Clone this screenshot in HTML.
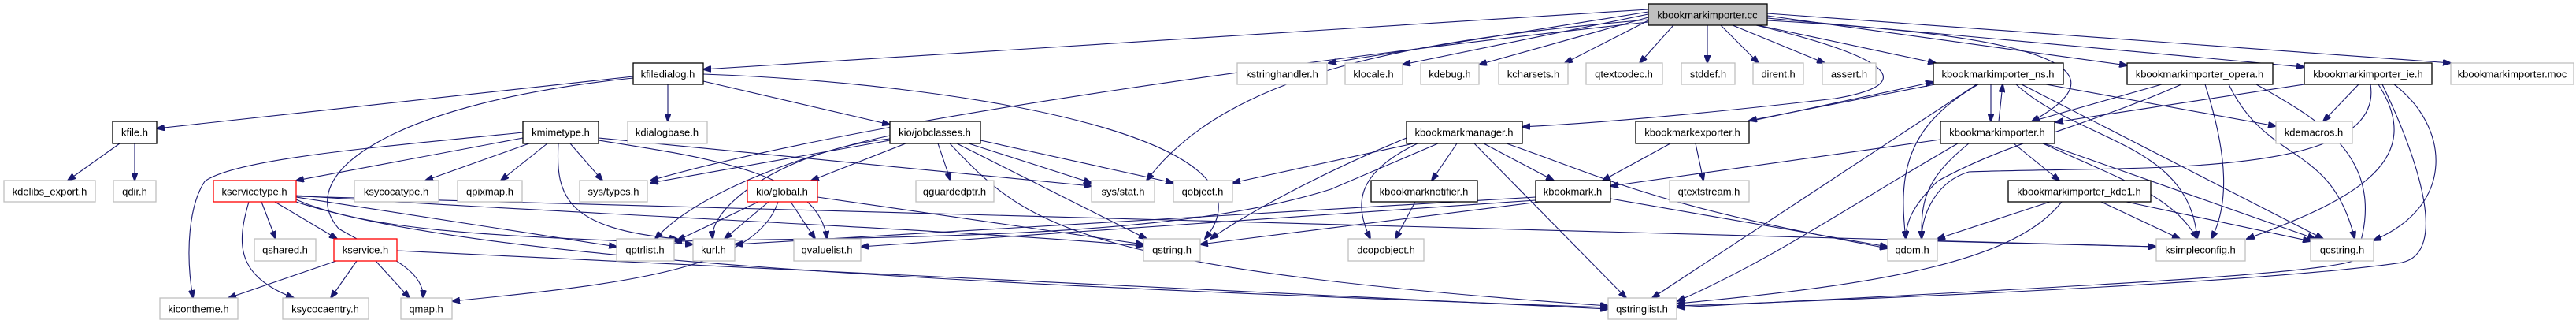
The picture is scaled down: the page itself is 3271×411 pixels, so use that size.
<!DOCTYPE html>
<html><head><meta charset="utf-8"><style>
html,body{margin:0;padding:0;background:#fff;}
svg{display:block}
text{font-family:"Liberation Sans",sans-serif;font-size:13px;fill:#000;text-anchor:middle;dominant-baseline:central}
.b{fill:#fff;stroke:#000;stroke-width:1.3}
.g{fill:#fff;stroke:#bfbfbf;stroke-width:1.3}
.r{fill:#fff;stroke:#ff0000;stroke-width:1.3}
path{fill:none;stroke:#191970;stroke-width:1.1}
</style></head><body>
<svg width="3271" height="411" viewBox="0 0 3271 411" xmlns="http://www.w3.org/2000/svg">
<defs><marker id="a" markerWidth="11" markerHeight="8" refX="10" refY="4" orient="auto" markerUnits="userSpaceOnUse"><path d="M0,0 L11,4 L0,8 Z" style="fill:#191970;stroke:#191970"/></marker></defs>
<g marker-end="url(#a)">
<!-- cc -->
<path d="M2093,12 L893,88"/>
<path d="M2093,15 L1687,80"/>
<path d="M2093,18 L1781,82"/>
<path d="M2093,22 L1878,82"/>
<path d="M2093,26 L1987,80"/>
<path d="M2125,32 L2082,80"/>
<path d="M2168,32 L2168,80"/>
<path d="M2185,32 L2233,80"/>
<path d="M2200,32 L2317,80"/>
<path d="M2232,32 L2458,80"/>
<path d="M2244,20 L2701,83"/>
<path d="M2244,23 L2926,85"/>
<path d="M2244,17 L3112,80"/>
<path d="M2244,26 C2700,50 2660,110 2580,154"/>
<path d="M2230,32 C2430,80 2420,110 2330,125 C2200,140 2050,155 1933,161"/>
<path d="M2093,25 C1800,50 1560,90 1456,229"/>
<path d="M2093,28 C1700,70 1100,150 826,229"/>
<!-- kfiledialog -->
<path d="M804,97 L199,163"/>
<path d="M848,107 L848,154"/>
<path d="M893,103 L1130,158"/>
<path d="M804,99 C500,130 370,220 430,290 C480,320 540,340 537,378"/>
<path d="M893,94 C1200,105 1640,170 1530,303"/>
<!-- kfile -->
<path d="M152,182 L86,229"/>
<path d="M171,182 L171,229"/>
<!-- kmimetype -->
<path d="M664,168 C500,185 300,200 260,230 C240,260 235,320 245,378"/>
<path d="M664,175 L376,229"/>
<path d="M672,182 L540,229"/>
<path d="M695,182 L636,229"/>
<path d="M724,182 L765,229"/>
<path d="M709,182 C705,250 720,290 860,303"/>
<path d="M760,175 L1386,236"/>
<path d="M760,178 C900,200 1040,220 1050,303"/>
<!-- kservicetype -->
<path d="M332,256 L350,303"/>
<path d="M349,256 L428,303"/>
<path d="M316,256 C300,310 300,350 373,378"/>
<path d="M376,250 L783,313"/>
<path d="M376,253 C480,300 700,300 880,310"/>
<path d="M376,248 C700,270 1200,290 1452,312"/>
<path d="M376,256 C600,330 1200,360 2042,390"/>
<path d="M376,249 L2738,313"/>
<!-- kservice -->
<path d="M427,331 L290,378"/>
<path d="M453,331 L420,378"/>
<path d="M477,331 L520,378"/>
<path d="M504,318 L2042,392"/>
<!-- jobclasses -->
<path d="M1150,182 L1030,229"/>
<path d="M1191,182 L1207,229"/>
<path d="M1230,182 L1386,232"/>
<path d="M1245,178 L1490,232"/>
<path d="M1215,182 L1456,303"/>
<path d="M1206,182 C1300,280 1350,340 2042,388"/>
<path d="M1130,172 C1000,200 880,250 832,303"/>
<path d="M1130,176 C1000,190 900,260 905,303"/>
<path d="M1130,178 L826,232"/>
<!-- kio/global -->
<path d="M963,256 L860,305"/>
<path d="M976,256 L920,303"/>
<path d="M1004,256 L1035,303"/>
<path d="M988,256 C960,340 800,360 574,382"/>
<path d="M1038,250 L1452,310"/>
<!-- kbookmarkmanager -->
<path d="M1795,182 L1565,232"/>
<path d="M1826,182 L1690,240 C1500,300 1200,300 856,306"/>
<path d="M1850,182 L1818,229"/>
<path d="M1884,182 L1973,229"/>
<path d="M1872,182 L2065,378"/>
<path d="M1800,182 C1720,220 1720,260 1740,303"/>
<path d="M1913,182 C2050,230 2100,260 2397,315"/>
<path d="M1786,175 C1700,210 1600,260 1537,303"/>
<!-- exporter -->
<path d="M2121,182 L2035,229"/>
<path d="M2153,182 L2163,229"/>
<path d="M2457,107 L2221,153"/>
<path d="M2221,154 L2455,104"/>
<!-- notifier -->
<path d="M1797,256 L1772,303"/>
<!-- kbookmark -->
<path d="M2045,252 L2397,313"/>
<path d="M1950,250 L933,310"/>
<path d="M1950,254 L1093,313"/>
<path d="M1955,256 L1524,310"/>
<!-- ns.h -->
<path d="M2528,107 L2528,154"/>
<path d="M2538,154 L2543,107"/>
<path d="M2598,107 L2890,160"/>
<path d="M2512,107 C2420,160 2410,220 2420,303"/>
<path d="M2567,107 L2950,303"/>
<path d="M2560,107 C2640,180 2780,180 2790,303"/>
<path d="M2510,107 L2098,378"/>
<!-- kbookmarkimporter.h -->
<path d="M2557,182 L2615,229"/>
<path d="M2500,182 C2440,230 2440,260 2440,303"/>
<path d="M2594,182 C2700,230 2760,250 2790,303"/>
<path d="M2596,182 L2940,303"/>
<path d="M2486,182 C2350,260 2250,330 2130,382"/>
<path d="M2464,177 L2045,236"/>
<!-- opera -->
<path d="M2745,107 L2580,154"/>
<path d="M2770,107 C2650,160 2550,180 2460,230 C2430,260 2420,280 2420,303"/>
<path d="M2800,107 C2830,200 2830,260 2808,303"/>
<path d="M2830,107 C2880,210 2960,180 2990,303"/>
<path d="M2865,107 C2940,150 3040,200 2990,330 C2950,350 2500,370 2130,390"/>
<!-- ie -->
<path d="M2926,107 L2610,155"/>
<path d="M2995,107 L2950,154"/>
<path d="M3010,107 C3030,230 2700,210 2500,218 C2460,230 2440,270 2440,303"/>
<path d="M3020,107 C3080,200 3000,250 2853,303"/>
<path d="M3040,107 C3110,160 3120,260 3014,305"/>
<path d="M3025,107 C3070,200 3110,320 3050,333 C2900,355 2500,375 2130,388"/>
<!-- kde1 -->
<path d="M2603,256 L2460,303"/>
<path d="M2668,256 L2768,303"/>
<path d="M2700,256 L2934,306"/>
<path d="M2618,256 C2560,330 2400,360 2130,385"/>
<path d="M2460,306 L2738,313"/>
</g>
<!-- nodes -->
<rect class="g" x="2093" y="5" width="151" height="27" style="fill:#bfbfbf;stroke:#000"/><text x="2168" y="19">kbookmarkimporter.cc</text>
<rect class="b" x="804" y="80" width="89" height="27"/><text x="848" y="94">kfiledialog.h</text>
<rect class="g" x="1571" y="80" width="114" height="27"/><text x="1628" y="94">kstringhandler.h</text>
<rect class="g" x="1708" y="80" width="73" height="27"/><text x="1744" y="94">klocale.h</text>
<rect class="g" x="1804" y="80" width="74" height="27"/><text x="1841" y="94">kdebug.h</text>
<rect class="g" x="1903" y="80" width="88" height="27"/><text x="1947" y="94">kcharsets.h</text>
<rect class="g" x="2014" y="80" width="97" height="27"/><text x="2062" y="94">qtextcodec.h</text>
<rect class="g" x="2135" y="80" width="68" height="27"/><text x="2169" y="94">stddef.h</text>
<rect class="g" x="2226" y="80" width="64" height="27"/><text x="2258" y="94">dirent.h</text>
<rect class="g" x="2314" y="80" width="68" height="27"/><text x="2348" y="94">assert.h</text>
<rect class="b" x="2455" y="80" width="165" height="27"/><text x="2537" y="94">kbookmarkimporter_ns.h</text>
<rect class="b" x="2701" y="80" width="185" height="27"/><text x="2793" y="94">kbookmarkimporter_opera.h</text>
<rect class="b" x="2926" y="80" width="162" height="27"/><text x="3007" y="94">kbookmarkimporter_ie.h</text>
<rect class="g" x="3112" y="80" width="156" height="27"/><text x="3190" y="94">kbookmarkimporter.moc</text>
<rect class="b" x="143" y="154" width="56" height="28"/><text x="171" y="168">kfile.h</text>
<rect class="b" x="664" y="154" width="96" height="28"/><text x="712" y="168">kmimetype.h</text>
<rect class="g" x="797" y="154" width="101" height="28"/><text x="847" y="168">kdialogbase.h</text>
<rect class="b" x="1130" y="154" width="115" height="28"/><text x="1187" y="168">kio/jobclasses.h</text>
<rect class="b" x="1786" y="154" width="147" height="28"/><text x="1859" y="168">kbookmarkmanager.h</text>
<rect class="b" x="2077" y="154" width="144" height="28"/><text x="2149" y="168">kbookmarkexporter.h</text>
<rect class="b" x="2464" y="154" width="145" height="28"/><text x="2536" y="168">kbookmarkimporter.h</text>
<rect class="g" x="2890" y="154" width="97" height="28"/><text x="2938" y="168">kdemacros.h</text>
<rect class="g" x="5" y="229" width="116" height="27"/><text x="63" y="243">kdelibs_export.h</text>
<rect class="g" x="144" y="229" width="54" height="27"/><text x="171" y="243">qdir.h</text>
<rect class="r" x="271" y="229" width="105" height="27"/><text x="323" y="243">kservicetype.h</text>
<rect class="g" x="450" y="229" width="107" height="27"/><text x="503" y="243">ksycocatype.h</text>
<rect class="g" x="581" y="229" width="82" height="27"/><text x="622" y="243">qpixmap.h</text>
<rect class="g" x="736" y="229" width="86" height="27"/><text x="779" y="243">sys/types.h</text>
<rect class="r" x="949" y="229" width="89" height="27"/><text x="993" y="243">kio/global.h</text>
<rect class="g" x="1163" y="229" width="99" height="27"/><text x="1212" y="243">qguardedptr.h</text>
<rect class="g" x="1386" y="229" width="80" height="27"/><text x="1426" y="243">sys/stat.h</text>
<rect class="g" x="1490" y="229" width="75" height="27"/><text x="1527" y="243">qobject.h</text>
<rect class="b" x="1741" y="229" width="135" height="27"/><text x="1808" y="243">kbookmarknotifier.h</text>
<rect class="b" x="1950" y="229" width="95" height="27"/><text x="1997" y="243">kbookmark.h</text>
<rect class="g" x="2120" y="229" width="101" height="27"/><text x="2170" y="243">qtextstream.h</text>
<rect class="b" x="2550" y="229" width="181" height="27"/><text x="2640" y="243">kbookmarkimporter_kde1.h</text>
<rect class="g" x="323" y="303" width="78" height="28"/><text x="362" y="317">qshared.h</text>
<rect class="r" x="424" y="303" width="80" height="28"/><text x="464" y="317">kservice.h</text>
<rect class="g" x="783" y="303" width="73" height="28"/><text x="819" y="317">qptrlist.h</text>
<rect class="g" x="880" y="303" width="53" height="28"/><text x="906" y="317">kurl.h</text>
<rect class="g" x="1008" y="303" width="85" height="28"/><text x="1050" y="317">qvaluelist.h</text>
<rect class="g" x="1452" y="303" width="72" height="28"/><text x="1488" y="317">qstring.h</text>
<rect class="g" x="1712" y="303" width="96" height="28"/><text x="1760" y="317">dcopobject.h</text>
<rect class="g" x="2397" y="303" width="63" height="28"/><text x="2428" y="317">qdom.h</text>
<rect class="g" x="2738" y="303" width="113" height="28"/><text x="2794" y="317">ksimpleconfig.h</text>
<rect class="g" x="2934" y="303" width="80" height="28"/><text x="2974" y="317">qcstring.h</text>
<rect class="g" x="203" y="378" width="99" height="27"/><text x="252" y="392">kicontheme.h</text>
<rect class="g" x="359" y="378" width="109" height="27"/><text x="413" y="392">ksycocaentry.h</text>
<rect class="g" x="509" y="378" width="65" height="27"/><text x="541" y="392">qmap.h</text>
<rect class="g" x="2042" y="378" width="87" height="27"/><text x="2085" y="392">qstringlist.h</text>
</svg>
</body></html>
